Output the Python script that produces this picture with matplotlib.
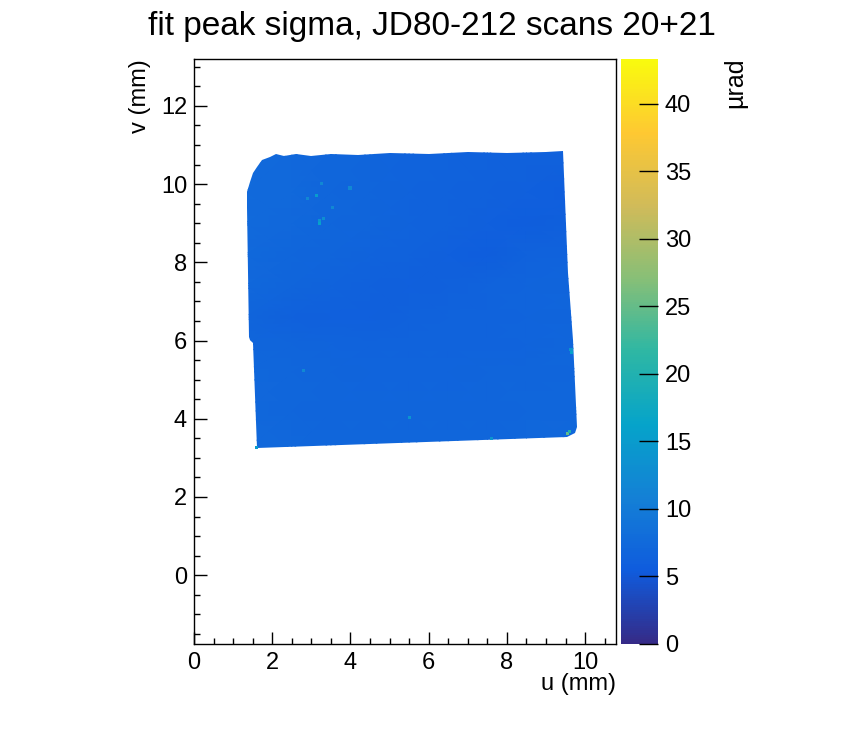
import numpy as np
import matplotlib
matplotlib.use('Agg')
import matplotlib.pyplot as plt
from matplotlib.colors import LinearSegmentedColormap, Normalize
from matplotlib.patches import Polygon
from matplotlib.ticker import MultipleLocator
from matplotlib.cm import ScalarMappable

plt.rcParams['font.family'] = ['Liberation Sans', 'DejaVu Sans']

# ---- data ----
title = "fit peak sigma, JD80-212 scans 20+21"
x_label = "u (mm)"
y_label = "v (mm)"
z_label = "µrad"
z_min, z_max = 0.0, 43.3
x_range = (0.0, 10.79)
y_range = (-1.76, 13.2)
z_ticks = [0, 5, 10, 15, 20, 25, 30, 35, 40]

# outline of the measured region (u, v in mm)
outline_u = [1.94, 2.1, 2.3, 2.6, 3.0, 3.5, 4.2, 5.0, 6.0, 7.0, 8.0, 9.0,
             9.43, 9.56, 9.69, 9.79, 9.74, 9.53, 1.61, 1.51, 1.44, 1.41,
             1.35, 1.36, 1.42, 1.51, 1.60, 1.74]
outline_v = [10.70, 10.77, 10.73, 10.76, 10.72, 10.78, 10.74, 10.79, 10.77,
             10.81, 10.80, 10.83, 10.84, 7.72, 6.01, 3.79, 3.63, 3.53, 3.25,
             5.93, 6.02, 6.09, 9.41, 9.80, 10.05, 10.28, 10.45, 10.61]

# sigma map nodes (µrad)
u_nodes = [1.3, 2.5, 3.5, 4.5, 5.5, 6.5, 7.5, 8.5, 9.9]
v_nodes = [3.2, 4.2, 5.2, 5.9, 6.6, 7.4, 8.2, 9.0, 9.8, 10.9]
sigma_v32 = [7.4, 7.2, 7.1, 7.0, 7.0, 7.1, 7.1, 7.2, 7.3]
sigma_v42 = [7.2, 7.0, 6.9, 6.8, 6.8, 6.9, 6.9, 7.0, 7.1]
sigma_v52 = [7.2, 7.0, 6.8, 6.7, 6.7, 6.7, 6.8, 6.9, 7.1]
sigma_v59 = [7.0, 6.8, 6.7, 6.6, 6.6, 6.6, 6.6, 6.7, 7.0]
sigma_v66 = [6.8, 6.2, 6.0, 6.1, 6.3, 6.5, 6.6, 6.7, 6.8]
sigma_v74 = [7.3, 6.9, 6.6, 6.2, 6.0, 6.2, 6.5, 6.7, 6.8]
sigma_v82 = [7.4, 7.1, 6.9, 6.6, 6.3, 6.0, 5.9, 6.3, 6.6]
sigma_v90 = [7.5, 7.3, 7.0, 6.8, 6.5, 6.3, 6.0, 5.8, 6.2]
sigma_v98 = [7.6, 7.4, 7.1, 6.8, 6.6, 6.4, 6.2, 6.0, 5.9]
sigma_v109 = [7.5, 7.3, 7.0, 6.8, 6.6, 6.5, 6.4, 6.4, 6.4]

# isolated high-sigma spots
hot_u = [3.27, 3.14, 3.55, 3.22, 3.99, 2.90, 9.66, 9.56, 7.60, 5.52, 2.79,
         1.60, 3.20, 3.30, 9.64, 9.60]
hot_v = [10.02, 9.72, 9.41, 9.00, 9.90, 9.64, 5.70, 3.63, 3.50, 4.04, 5.24,
         3.27, 9.06, 9.12, 5.78, 3.68]
hot_val = [12, 15, 12, 16, 12, 12, 16, 25, 14, 14, 12, 15, 14, 13, 14, 20]

# ROOT kBird palette
bird_stops = [0.0, 0.125, 0.25, 0.375, 0.5, 0.625, 0.75, 0.875, 1.0]
bird_r = [0.2082, 0.0592, 0.0780, 0.0232, 0.1802, 0.5301, 0.8186, 0.9956, 0.9764]
bird_g = [0.1664, 0.3599, 0.5041, 0.6419, 0.7178, 0.7492, 0.7328, 0.7862, 0.9832]
bird_b = [0.5293, 0.8684, 0.8385, 0.7914, 0.6425, 0.4662, 0.3499, 0.1968, 0.0539]

cmap = LinearSegmentedColormap.from_list(
    'bird', list(zip(bird_stops, zip(bird_r, bird_g, bird_b))), N=255)
norm = Normalize(vmin=z_min, vmax=z_max)

W, H = 862, 732
fig = plt.figure(figsize=(W / 100, H / 100), dpi=100)
ax = fig.add_axes([194 / W, 1 - 644 / H, (616 - 194) / W, (644 - 59) / H])
cax = fig.add_axes([621 / W, 1 - 644 / H, (658 - 621) / W, (644 - 59) / H])

U, V = np.meshgrid(u_nodes, v_nodes)
Z = np.array([sigma_v32, sigma_v42, sigma_v52, sigma_v59, sigma_v66,
              sigma_v74, sigma_v82, sigma_v90, sigma_v98, sigma_v109])
mesh = ax.pcolormesh(U, V, Z, cmap=cmap, norm=norm, shading='gouraud')
poly = Polygon(np.column_stack([outline_u, outline_v]), closed=True,
               transform=ax.transData, facecolor='none', edgecolor='none')
ax.add_patch(poly)
mesh.set_clip_path(poly)
ax.scatter(hot_u, hot_v, c=hot_val, cmap=cmap, norm=norm, marker='s', s=5,
           linewidths=0, zorder=3)

ax.set_xlim(*x_range)
ax.set_ylim(*y_range)
ax.xaxis.set_major_locator(MultipleLocator(2))
ax.xaxis.set_minor_locator(MultipleLocator(0.5))
ax.yaxis.set_major_locator(MultipleLocator(2))
ax.yaxis.set_minor_locator(MultipleLocator(0.5))
ax.tick_params(which='both', direction='in', top=False, right=False,
               labelsize=17, width=1)
ax.tick_params(which='major', length=9)
ax.tick_params(which='minor', length=4.5)
ax.tick_params(axis='x', pad=6)
ax.tick_params(axis='y', pad=5)
for s in ax.spines.values():
    s.set_linewidth(1)

cb = fig.colorbar(ScalarMappable(norm=norm, cmap=cmap), cax=cax)
cb.outline.set_visible(False)
cb.set_ticks(z_ticks)
cax.tick_params(direction='in', length=14, width=1, labelsize=17, pad=5,
                color='black')
cax.minorticks_off()

fig.text(432 / W, 1 - 26 / H, title, ha='center', va='center', fontsize=24)
fig.text(616 / W, 1 - 684 / H, x_label, ha='right', va='center', fontsize=17)
fig.text(140 / W, 1 - 59 / H, y_label, ha='center', va='top', rotation=90,
         fontsize=17)
fig.text(735 / W, 1 - 58 / H, z_label, ha='center', va='top', rotation=90,
         fontsize=18)

fig.savefig('out.png', dpi=100)
